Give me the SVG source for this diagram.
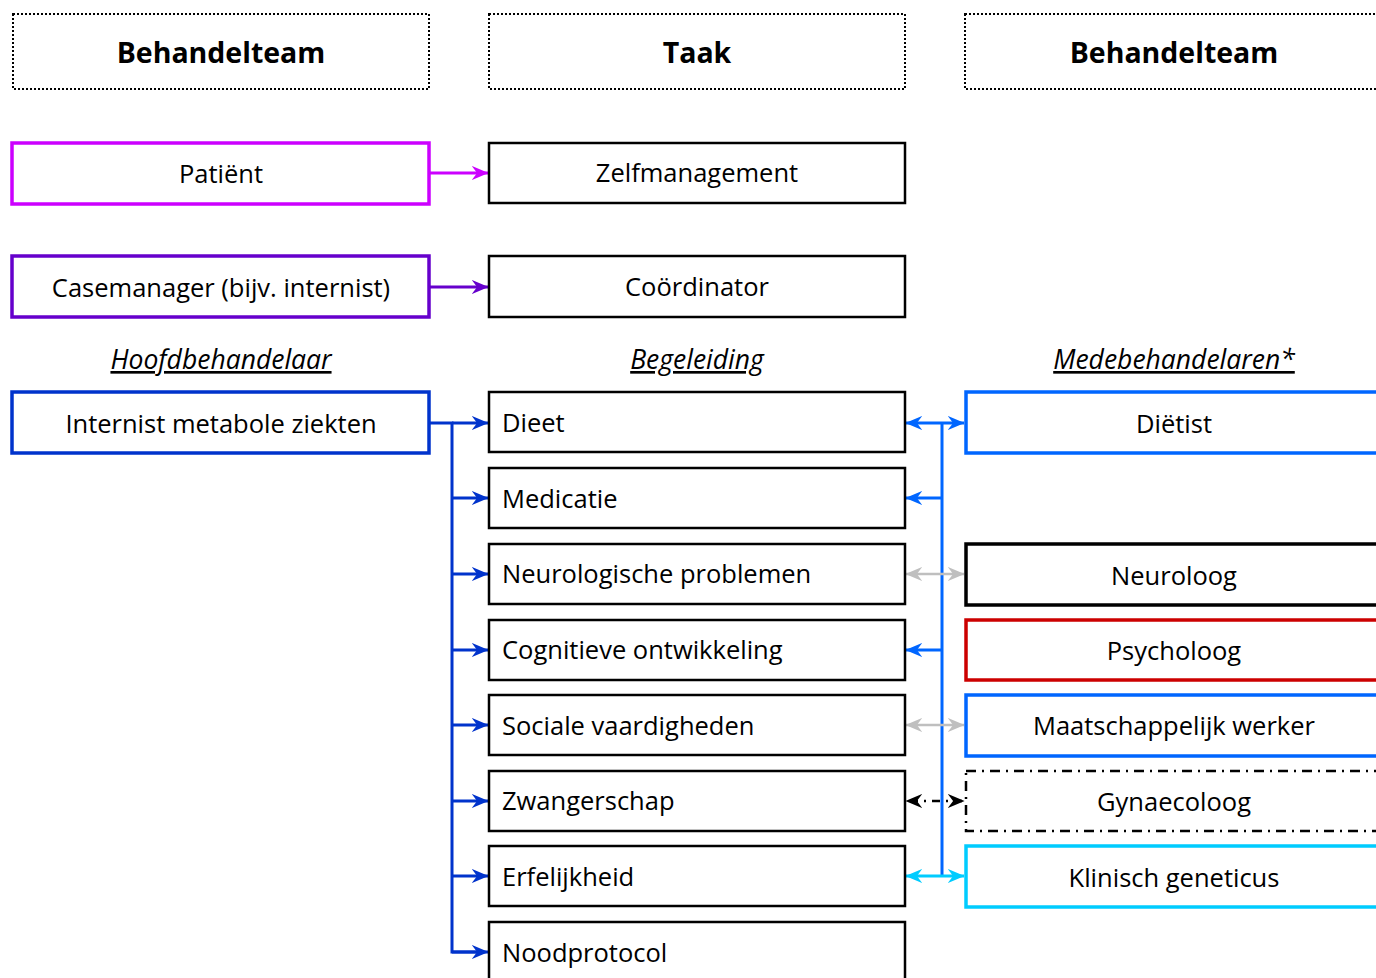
<svg xmlns="http://www.w3.org/2000/svg" width="1376" height="978" viewBox="0 0 1376 978">
<defs>
<style>
text{font-family:"Open Sans","Noto Sans","Liberation Sans",sans-serif;font-size:25.5px;fill:#000}
.h{font-weight:bold;font-size:28.5px}
.c{text-anchor:middle}
.lab{font-style:italic;text-decoration:underline;font-size:26.5px}
.hdr{fill:#fff;stroke:#000;stroke-width:2;stroke-dasharray:2 2}
.box{fill:#fff;stroke:#000;stroke-width:2.5}
.thick{fill:#fff;stroke-width:3.5}
.ln{fill:none;stroke-width:3}
</style>
<marker id="aMag" viewBox="0 0 14 14" refX="13.5" refY="7" markerWidth="17" markerHeight="17" markerUnits="userSpaceOnUse" orient="auto-start-reverse"><path d="M0,1 L14,7 L0,13 L4.5,7 z" fill="#CC00FF"/></marker>
<marker id="aPur" viewBox="0 0 14 14" refX="13.5" refY="7" markerWidth="17" markerHeight="17" markerUnits="userSpaceOnUse" orient="auto-start-reverse"><path d="M0,1 L14,7 L0,13 L4.5,7 z" fill="#6600CC"/></marker>
<marker id="aDb" viewBox="0 0 14 14" refX="13.5" refY="7" markerWidth="17" markerHeight="17" markerUnits="userSpaceOnUse" orient="auto-start-reverse"><path d="M0,1 L14,7 L0,13 L4.5,7 z" fill="#0033CC"/></marker>
<marker id="aB" viewBox="0 0 14 14" refX="13.5" refY="7" markerWidth="17" markerHeight="17" markerUnits="userSpaceOnUse" orient="auto-start-reverse"><path d="M0,1 L14,7 L0,13 L4.5,7 z" fill="#0066FF"/></marker>
<marker id="aG" viewBox="0 0 14 14" refX="13.5" refY="7" markerWidth="17" markerHeight="17" markerUnits="userSpaceOnUse" orient="auto-start-reverse"><path d="M0,1 L14,7 L0,13 L4.5,7 z" fill="#BFBFBF"/></marker>
<marker id="aK" viewBox="0 0 14 14" refX="13.5" refY="7" markerWidth="17" markerHeight="17" markerUnits="userSpaceOnUse" orient="auto-start-reverse"><path d="M0,1 L14,7 L0,13 L4.5,7 z" fill="#000"/></marker>
<marker id="aC" viewBox="0 0 14 14" refX="13.5" refY="7" markerWidth="17" markerHeight="17" markerUnits="userSpaceOnUse" orient="auto-start-reverse"><path d="M0,1 L14,7 L0,13 L4.5,7 z" fill="#00CCFF"/></marker>
</defs>
<rect width="1376" height="978" fill="#fff"/>

<g id="connectors">
<line class="ln" x1="430" y1="173" x2="488" y2="173" stroke="#CC00FF" marker-end="url(#aMag)"/>
<line class="ln" x1="430" y1="287" x2="488" y2="287" stroke="#6600CC" marker-end="url(#aPur)"/>
<polyline class="ln" points="430,423 452,423 452,952 476,952" stroke="#0033CC"/>
<g stroke="#0033CC">
<line class="ln" x1="452" y1="423" x2="488" y2="423" marker-end="url(#aDb)"/>
<line class="ln" x1="452" y1="498" x2="488" y2="498" marker-end="url(#aDb)"/>
<line class="ln" x1="452" y1="574" x2="488" y2="574" marker-end="url(#aDb)"/>
<line class="ln" x1="452" y1="650" x2="488" y2="650" marker-end="url(#aDb)"/>
<line class="ln" x1="452" y1="725" x2="488" y2="725" marker-end="url(#aDb)"/>
<line class="ln" x1="452" y1="801" x2="488" y2="801" marker-end="url(#aDb)"/>
<line class="ln" x1="452" y1="876" x2="488" y2="876" marker-end="url(#aDb)"/>
<line class="ln" x1="452" y1="952" x2="488" y2="952" marker-end="url(#aDb)"/>
</g>
<line class="ln" x1="942" y1="423" x2="942" y2="876" stroke="#0066FF"/>
<line class="ln" x1="906" y1="423" x2="964" y2="423" stroke="#0066FF" marker-start="url(#aB)" marker-end="url(#aB)"/>
<line class="ln" x1="942" y1="498" x2="906" y2="498" stroke="#0066FF" marker-end="url(#aB)"/>
<line class="ln" x1="942" y1="650" x2="906" y2="650" stroke="#0066FF" marker-end="url(#aB)"/>
<line x1="906" y1="574" x2="964" y2="574" stroke="#BFBFBF" stroke-width="2.5" marker-start="url(#aG)" marker-end="url(#aG)"/>
<line x1="906" y1="725" x2="964" y2="725" stroke="#BFBFBF" stroke-width="2.5" marker-start="url(#aG)" marker-end="url(#aG)"/>
<line x1="906" y1="801" x2="964" y2="801" stroke="#000" stroke-width="2.5" stroke-dasharray="8 6 2 6" stroke-dashoffset="-4" marker-start="url(#aK)" marker-end="url(#aK)"/>
<line class="ln" x1="906" y1="876" x2="964" y2="876" stroke="#00CCFF" marker-start="url(#aC)" marker-end="url(#aC)"/>
</g>

<g id="hdr-left"><rect class="hdr" x="13" y="14" width="416" height="75"/><text class="h c" x="221" y="63">Behandelteam</text></g>
<g id="hdr-mid"><rect class="hdr" x="489" y="14" width="416" height="75"/><text class="h c" x="697" y="63">Taak</text></g>
<g id="hdr-right"><rect class="hdr" x="965" y="14" width="430" height="75"/><text class="h c" x="1174" y="63">Behandelteam</text></g>

<g id="patient"><rect class="thick" x="12" y="143" width="417" height="61" stroke="#CC00FF"/><text class="c" x="221" y="183">Patiënt</text></g>
<g id="zelfmanagement"><rect class="box" x="489" y="143" width="416" height="60"/><text class="c" x="697" y="182">Zelfmanagement</text></g>
<g id="casemanager"><rect class="thick" x="12" y="256" width="417" height="61" stroke="#6600CC"/><text class="c" x="221" y="297">Casemanager (bijv. internist)</text></g>
<g id="coordinator"><rect class="box" x="489" y="256" width="416" height="61"/><text class="c" x="697" y="296">Coördinator</text></g>

<g id="lab-hoofd"><text class="lab c" x="221" y="369">Hoofdbehandelaar</text></g>
<g id="lab-begel"><text class="lab c" x="697" y="369">Begeleiding</text></g>
<g id="lab-mede"><text class="lab c" x="1174" y="369">Medebehandelaren*</text></g>

<g id="internist"><rect class="thick" x="12" y="392" width="417" height="61" stroke="#0033CC"/><text class="c" x="221" y="433">Internist metabole ziekten</text></g>

<g id="dieet"><rect class="box" x="489" y="392" width="416" height="60"/><text x="502" y="432">Dieet</text></g>
<g id="medicatie"><rect class="box" x="489" y="468" width="416" height="60"/><text x="502" y="508">Medicatie</text></g>
<g id="neuro"><rect class="box" x="489" y="544" width="416" height="60"/><text x="502" y="583">Neurologische problemen</text></g>
<g id="cognitief"><rect class="box" x="489" y="620" width="416" height="60"/><text x="502" y="659">Cognitieve ontwikkeling</text></g>
<g id="sociaal"><rect class="box" x="489" y="695" width="416" height="60"/><text x="502" y="735">Sociale vaardigheden</text></g>
<g id="zwanger"><rect class="box" x="489" y="771" width="416" height="60"/><text x="502" y="810">Zwangerschap</text></g>
<g id="erfelijk"><rect class="box" x="489" y="846" width="416" height="60"/><text x="502" y="886">Erfelijkheid</text></g>
<g id="nood"><rect class="box" x="489" y="922" width="416" height="70"/><text x="502" y="962">Noodprotocol</text></g>

<g id="dietist"><rect class="thick" x="966" y="392" width="430" height="61" stroke="#0066FF"/><text class="c" x="1174" y="433">Diëtist</text></g>
<g id="neuroloog"><rect class="thick" x="966" y="544" width="430" height="61" stroke="#000"/><text class="c" x="1174" y="585">Neuroloog</text></g>
<g id="psycholoog"><rect class="thick" x="966" y="620" width="430" height="60" stroke="#CC0000"/><text class="c" x="1174" y="660">Psycholoog</text></g>
<g id="maatschappelijk"><rect class="thick" x="966" y="695" width="430" height="61" stroke="#0066FF"/><text class="c" x="1174" y="735">Maatschappelijk werker</text></g>
<g id="gynaecoloog"><rect x="966" y="771" width="430" height="60" fill="#fff" stroke="#000" stroke-width="2.5" stroke-dasharray="10 6 2 6"/><text class="c" x="1174" y="811">Gynaecoloog</text></g>
<g id="geneticus"><rect class="thick" x="966" y="846" width="430" height="61" stroke="#00CCFF"/><text class="c" x="1174" y="887">Klinisch geneticus</text></g>
</svg>
